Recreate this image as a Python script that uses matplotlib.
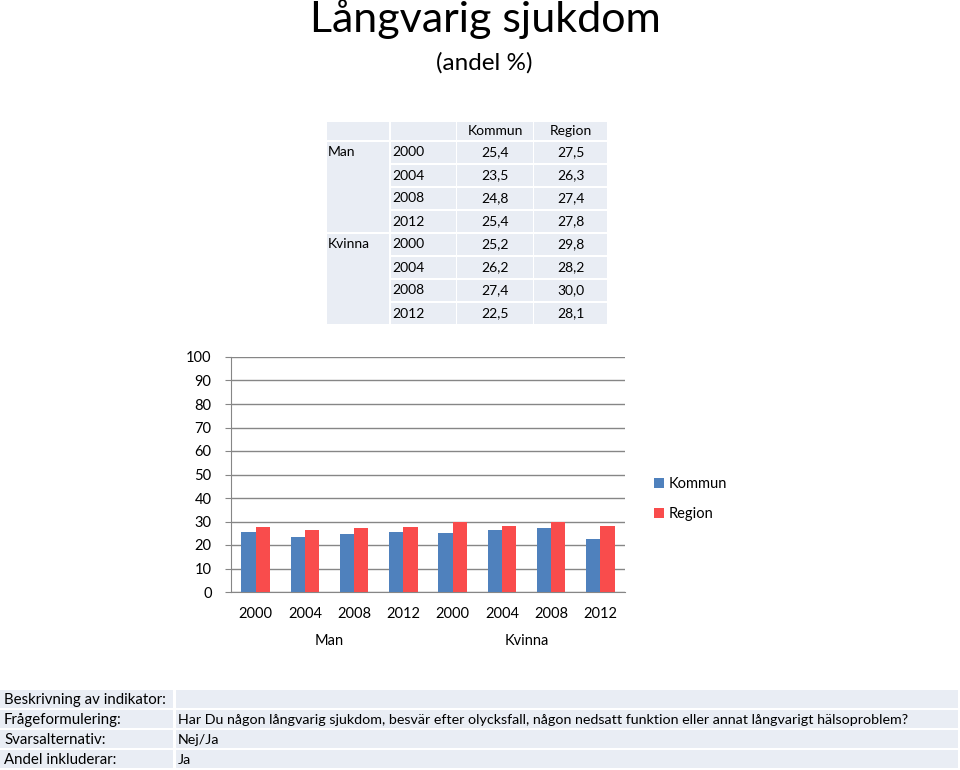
import matplotlib
matplotlib.use('Agg')
import matplotlib.pyplot as plt
from matplotlib.patches import Rectangle

plt.rcParams['font.family'] = ['Lato', 'DejaVu Sans']

# Data
groups = ['Man', 'Kvinna']
years = ['2000', '2004', '2008', '2012']
kommun = [25.4, 23.5, 24.8, 25.4, 25.2, 26.2, 27.4, 22.5]
region = [27.5, 26.3, 27.4, 27.8, 29.8, 28.2, 30.0, 28.1]
series_names = ['Kommun', 'Region']
info_labels = ['Beskrivning av indikator:', 'Frågeformulering:', 'Svarsalternativ:', 'Andel inkluderar:']
info_values = ['',
               'Har Du någon långvarig sjukdom, besvär efter olycksfall, någon nedsatt funktion eller annat långvarigt hälsoproblem?',
               'Nej/Ja', 'Ja']

c_blue = '#4F81BD'
c_red = '#F94C4C'
c_cell = '#E9EDF4'
W, H = 960, 770

fig = plt.figure(figsize=(9.6, 7.7), dpi=100)

# overlay in pixel coords for title and tables
bg = fig.add_axes([0, 0, 1, 1])
bg.set_xlim(0, W)
bg.set_ylim(H, 0)
bg.axis('off')

bg.text(485, 19, 'Långvarig sjukdom', fontsize=31, ha='center', va='center')
bg.text(484, 63, '(andel %)', fontsize=17.5, ha='center', va='center')

# top table
cols = [(327, 389), (391, 456), (457, 533), (534, 607)]
head_top, head_bot = 122, 140
row_h = 23
row0 = 142
fs_tab = 10
for x0, x1 in cols:
    bg.add_patch(Rectangle((x0, head_top), x1 - x0, head_bot - head_top, color=c_cell, lw=0))
bg.text((cols[2][0] + cols[2][1]) / 2, 131, series_names[0], fontsize=fs_tab, ha='center', va='center')
bg.text((cols[3][0] + cols[3][1]) / 2, 131, series_names[1], fontsize=fs_tab, ha='center', va='center')
for g, grp in enumerate(groups):
    gtop = row0 + g * 4 * row_h
    bg.add_patch(Rectangle((cols[0][0], gtop), cols[0][1] - cols[0][0], 4 * row_h - 2, color=c_cell, lw=0))
    bg.text(cols[0][0] + 1, gtop + row_h / 2 - 1, grp, fontsize=fs_tab, ha='left', va='center')
    for j, yr in enumerate(years):
        i = g * 4 + j
        top = row0 + i * row_h
        for x0, x1 in cols[1:]:
            bg.add_patch(Rectangle((x0, top), x1 - x0, row_h - 2, color=c_cell, lw=0))
        yc = top + row_h / 2 - 1
        bg.text(cols[1][0] + 1, yc, yr, fontsize=fs_tab, ha='left', va='center')
        bg.text((cols[2][0] + cols[2][1]) / 2, yc, f'{kommun[i]:.1f}'.replace('.', ','),
                fontsize=fs_tab, ha='center', va='center')
        bg.text((cols[3][0] + cols[3][1]) / 2, yc, f'{region[i]:.1f}'.replace('.', ','),
                fontsize=fs_tab, ha='center', va='center')

# bottom info table
for k, (lab, val) in enumerate(zip(info_labels, info_values)):
    top = 690 + k * 20
    bg.add_patch(Rectangle((0, top), 173, 18, color=c_cell, lw=0))
    bg.add_patch(Rectangle((176, top), 782, 18, color=c_cell, lw=0))
    bg.text(4, top + 10, lab, fontsize=10.8, ha='left', va='center')
    bg.text(178, top + 10, val, fontsize=10.3, ha='left', va='center')

# bar chart
ax = fig.add_axes([231 / W, 1 - 592 / H, (625 - 231) / W, (592 - 357) / H])
n = len(kommun)
x = list(range(n))
bw = 0.29
ax.bar([v - bw / 2 for v in x], kommun, width=bw, color=c_blue, label=series_names[0], zorder=3)
ax.bar([v + bw / 2 for v in x], region, width=bw, color=c_red, label=series_names[1], zorder=3)
ax.set_xlim(-0.5, n - 0.5)
ax.set_ylim(0, 100)
ax.set_yticks(range(0, 101, 10))
ax.set_xticks(x)
ax.set_xticklabels(years * len(groups))
ax.tick_params(axis='y', length=4, color='#868686', labelsize=10.5, pad=10)
ax.tick_params(axis='x', length=0, labelsize=10.5, pad=11)
ax.grid(axis='y', color='#868686', lw=1, zorder=0)
for s in ['top', 'right']:
    ax.spines[s].set_visible(False)
ax.spines['left'].set_color('#868686')
ax.spines['bottom'].set_color('#868686')
for g, grp in enumerate(groups):
    ax.text(g * 4 + 1.5, -0.21, grp, transform=ax.get_xaxis_transform(), fontsize=10.5,
            ha='center', va='center')

leg = fig.legend(loc='center left', bbox_to_anchor=(641 / W, 1 - 499 / H), frameon=False,
                 fontsize=10.5, handlelength=0.7, handleheight=0.7, labelspacing=1.1,
                 handletextpad=0.3)

fig.savefig('out.png', dpi=100)
